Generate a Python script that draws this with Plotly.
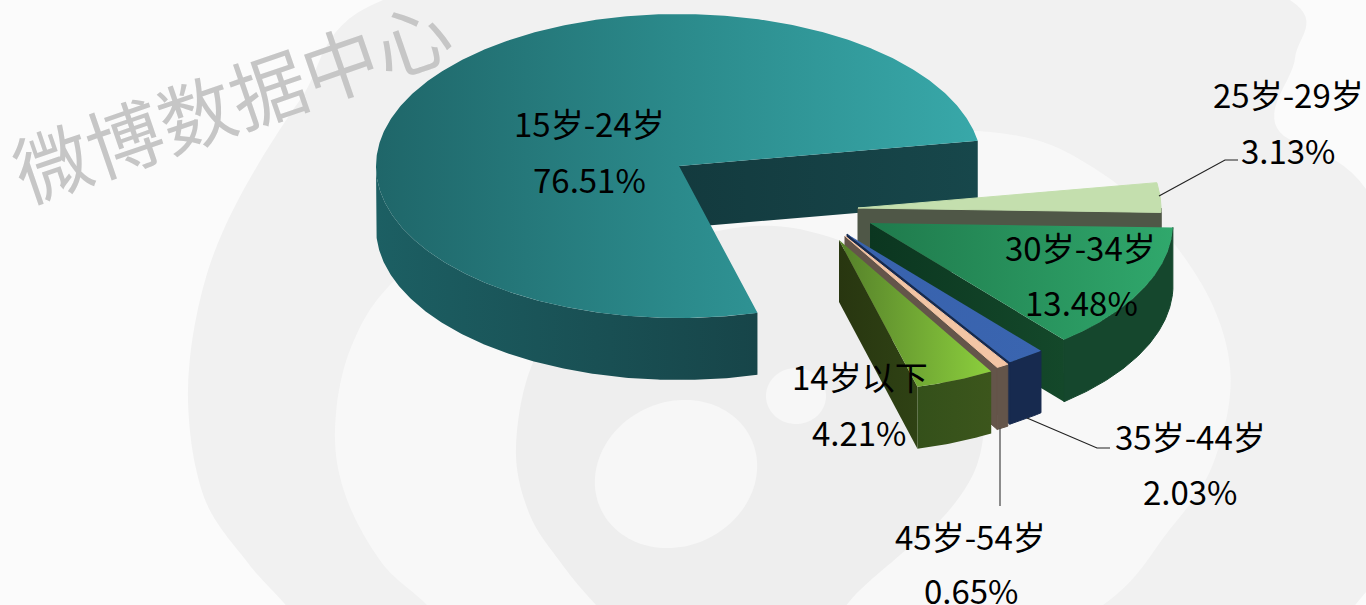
import numpy as np
import plotly.graph_objects as go

# Age distribution of users
categories = ["14岁以下", "15岁-24岁", "25岁-29岁", "30岁-34岁", "35岁-44岁", "45岁-54岁"]
values = [4.21, 76.51, 3.13, 13.48, 2.03, 0.65]

# Pie geometry in plot units (axes run 1:1 with the page)
RX, RY, DEPTH = 303, 152, 62
START_ANGLE = -59.84
# Where each exploded wedge's tip sits
tips = {
    "14岁以下": (839, 240), "15岁-24岁": (679, 166), "25岁-29岁": (858, 208),
    "30岁-34岁": (870, 223), "35岁-44岁": (847, 234), "45岁-54岁": (845, 236),
}
# Back-to-front painting order
draw_order = ["15岁-24岁", "25岁-29岁", "30岁-34岁", "35岁-44岁", "45岁-54岁", "14岁以下"]
# (top colours, outer wall colours, cut wall colours)
palette = {
    "15岁-24岁": (("#1f6669", "#2b8a8b", "#38a8a9"), ("#1c5f63", "#174549"), ("#133a3e", "#17474b")),
    "25岁-29岁": (("#c4dfae", "#c4dfae"), ("#4f5747", "#4f5747"), ("#4f5747", "#4f5747")),
    "30岁-34岁": (("#1f7a4c", "#30a86c"), ("#15472d", "#15472d"), ("#0b3620", "#14482a")),
    "35岁-44岁": (("#3862ad", "#3a65b0"), ("#172a4f", "#172a4f"), ("#172a4f", "#172a4f")),
    "45岁-54岁": (("#f3c5a5", "#f3c5a5"), ("#64554a", "#64554a"), ("#64554a", "#64554a")),
    "14岁以下": (("#55802a", "#8ccf3d"), ("#34501a", "#3c561c"), ("#283610", "#2f4214")),
}
# Label centres: (name line, value line)
label_pos = {
    "15岁-24岁": ((589, 123), (589, 179)), "25岁-29岁": ((1288, 94), (1288, 150)),
    "30岁-34岁": ((1080, 247), (1081, 302)), "14岁以下": ((860, 376), (859, 432)),
    "35岁-44岁": ((1190, 436), (1190, 491)), "45岁-54岁": ((970, 536), (971, 590)),
}
leaders = [
    ([1159, 1225, 1238], [196, 160, 160], "#222222"),
    ([1027, 1097, 1110], [418, 448, 448], "#222222"),
    ([1000, 1000], [428, 506], "#444444"),
]


def gradient(colors):
    n = len(colors) - 1
    return dict(type="horizontal", colorscale=[[i / n, c] for i, c in enumerate(colors)])


def poly(xs, ys, colors):
    # Flat-coloured walls get a hairline outline so neighbouring faces close up
    flat = colors[0] == colors[-1]
    line = dict(width=1, color=colors[0]) if flat else dict(width=0)
    return go.Scatter(x=xs, y=ys, mode="lines", fill="toself", line=line,
                      fillgradient=gradient(colors), hoverinfo="skip", showlegend=False)


def arc(tip, a0, a1):
    t = np.radians(np.linspace(a0, a1, max(8, int(abs(a1 - a0) * 2))))
    return t, tip[0] + RX * np.cos(t), tip[1] - RY * np.sin(t)


# Sweep clockwise through the categories
total = sum(values)
angles = {}
cursor = START_ANGLE
for name, v in zip(categories, values):
    angles[name] = (cursor, cursor - v / total * 360)
    cursor -= v / total * 360

fig = go.Figure()
for name in draw_order:
    a0, a1 = angles[name]
    tip = tips[name]
    top_c, wall_c, cut_c = palette[name]
    t, ax, ay = arc(tip, a0, a1)

    # Wall along the clockwise cut edge
    ex, ey = ax[-1], ay[-1]
    fig.add_trace(poly([tip[0], ex, ex, tip[0], tip[0]],
                       [tip[1], ey, ey + DEPTH, tip[1] + DEPTH, tip[1]], cut_c))

    # Outer rim: only the lower half of the ellipse faces the viewer
    front = np.sin(t) <= 0
    if front.sum() > 1:
        wx, wy = ax[front], ay[front]
        fig.add_trace(poly(list(wx) + list(wx[::-1]) + [wx[0]],
                           list(wy) + list((wy + DEPTH)[::-1]) + [wy[0]], wall_c))

    # Top face
    fig.add_trace(poly([tip[0]] + list(ax) + [tip[0]], [tip[1]] + list(ay) + [tip[1]], top_c))

for lx, ly, c in leaders:
    fig.add_trace(go.Scatter(x=lx, y=ly, mode="lines", line=dict(color=c, width=1.2),
                             hoverinfo="skip", showlegend=False))

annotations = [dict(x=231, y=98, text="微博数据中心", textangle=-19, showarrow=False,
                    font=dict(family="Noto Sans CJK SC", size=76, color="#c6c6c6"))]
for name, v in zip(categories, values):
    (nx, ny), (vx, vy) = label_pos[name]
    annotations.append(dict(x=nx, y=ny, text=name, showarrow=False,
                            font=dict(family="Noto Sans CJK SC", size=33, color="#000000")))
    annotations.append(dict(x=vx, y=vy, text=f"{v:.2f}%", showarrow=False,
                            font=dict(family="Noto Sans CJK SC", size=33, color="#000000")))
for a in annotations:
    a.update(xref="x", yref="y")


def ellipse_path(cx, cy, rx, ry, tilt=0.0):
    t = np.linspace(0, 2 * np.pi, 120)
    c, s = np.cos(np.radians(tilt)), np.sin(np.radians(tilt))
    px = cx + rx * np.cos(t) * c - ry * np.sin(t) * s
    py = cy + rx * np.cos(t) * s + ry * np.sin(t) * c
    return "M" + "L".join(f"{a:.1f},{b:.1f}" for a, b in zip(px, py)) + "Z"


def blob_path(points, steps=14):
    # Closed Catmull-Rom curve through the outline points
    p = np.array(points, dtype=float)
    n = len(p)
    out = []
    for i in range(n):
        p0, p1, p2, p3 = p[i - 1], p[i], p[(i + 1) % n], p[(i + 2) % n]
        for u in np.linspace(0, 1, steps, endpoint=False):
            out.append(0.5 * (2 * p1 + (p2 - p0) * u + (2 * p0 - 5 * p1 + 4 * p2 - p3) * u ** 2
                              + (3 * p1 - p0 - 3 * p2 + p3) * u ** 3))
    return "M" + "L".join(f"{a:.1f},{b:.1f}" for a, b in out) + "Z"


# Faint logo shapes behind the pie
logo_outer = [(383, 0), (700, -60), (1100, -70), (1290, 0), (1295, 58), (1277, 128), (1366, 189),
              (1470, 400), (1366, 592), (1200, 720), (800, 800), (500, 760), (345, 680), (290, 610),
              (248, 563), (204, 497), (188, 400), (200, 300), (233, 210), (300, 100)]
logo_inner = [(335, 430), (350, 350), (395, 280), (500, 205), (700, 150), (977, 131), (1103, 174),
              (1193, 270), (1230, 367), (1213, 464), (1167, 533), (1103, 605), (950, 690),
              (650, 720), (490, 670), (427, 605), (382, 563), (346, 497)]
logo_ring = [(516, 447), (534, 360), (590, 280), (723, 230), (823, 235), (930, 290), (985, 370),
             (985, 420), (975, 470), (945, 515), (900, 555), (860, 590), (800, 650), (700, 680),
             (650, 660), (596, 605), (561, 563), (529, 513)]
logo = [
    (blob_path(logo_outer), "#f1f1f1"),
    (blob_path(logo_inner), "#f8f8f8"),
    (blob_path(logo_ring), "#eeeeee"),
    (ellipse_path(676, 474, 83, 72, -25), "#f7f7f7"),
    (ellipse_path(796, 396, 30, 28), "#f7f7f7"),
]
shapes = [dict(type="path", path=p, xref="x", yref="y", fillcolor=c, line=dict(width=0),
               layer="below") for p, c in logo]

fig.update_layout(
    width=1366, height=605, autosize=False, margin=dict(l=0, r=0, t=0, b=0),
    paper_bgcolor="#fbfbfb", plot_bgcolor="rgba(0,0,0,0)", showlegend=False,
    xaxis=dict(range=[0, 1366], visible=False, fixedrange=True),
    yaxis=dict(range=[605, 0], visible=False, fixedrange=True),
    annotations=annotations, shapes=shapes,
)
fig.write_html("out.html", config=dict(displayModeBar=False))
